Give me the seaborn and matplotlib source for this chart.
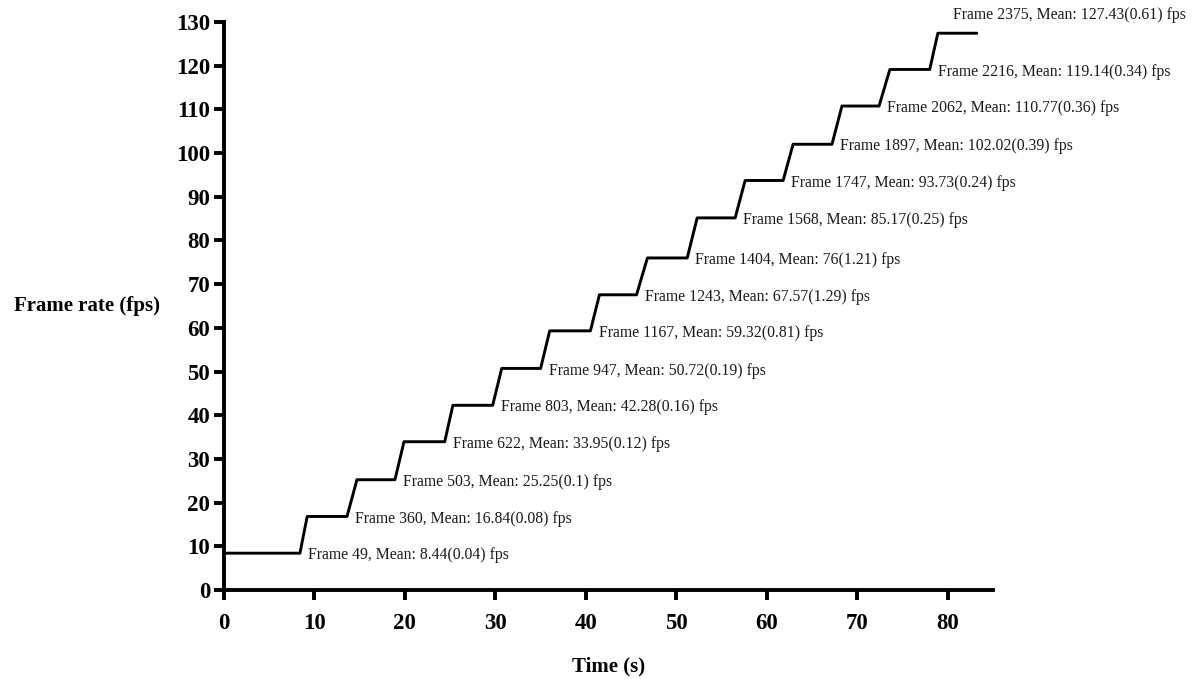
import numpy as np
import pandas as pd
import matplotlib
matplotlib.use("Agg")
import matplotlib.pyplot as plt
import seaborn as sns

# --- data ---
# plateau levels (mean fps) and the frame counts written in the labels
levels = [8.44, 16.84, 25.25, 33.95, 42.28, 50.72, 59.32, 67.57,
          76.00, 85.17, 93.73, 102.02, 110.77, 119.14, 127.43]
frames = [49, 360, 503, 622, 803, 947, 1167, 1243,
          1404, 1568, 1747, 1897, 2062, 2216, 2375]
stds = ["0.04", "0.08", "0.1", "0.12", "0.16", "0.19", "0.81", "1.29",
        "1.21", "0.25", "0.24", "0.39", "0.36", "0.34", "0.61"]
mean_txt = ["8.44", "16.84", "25.25", "33.95", "42.28", "50.72", "59.32", "67.57",
            "76", "85.17", "93.73", "102.02", "110.77", "119.14", "127.43"]
# time (s) where each step starts to rise and where it reaches the next level
ramp_start = [8.4, 13.6, 18.9, 24.4, 29.7, 35.0, 40.5, 45.6,
              51.2, 56.5, 61.8, 67.2, 72.4, 78.0]
ramp_end = [9.2, 14.7, 19.9, 25.3, 30.7, 36.0, 41.5, 46.8,
            52.3, 57.6, 62.9, 68.3, 73.6, 78.9]
t_first, t_last = 0.0, 83.2

# build the staircase polyline
t = [t_first]
fps = [levels[0]]
for i in range(len(ramp_start)):
    t += [ramp_start[i], ramp_end[i]]
    fps += [levels[i], levels[i + 1]]
t.append(t_last)
fps.append(levels[-1])
df = pd.DataFrame({"Time (s)": t, "Frame rate (fps)": fps})

# --- style ---
sns.set_theme(style="ticks")
plt.rcParams["font.family"] = ["Liberation Serif", "DejaVu Serif"]

fig = plt.figure(figsize=(11.95, 6.79), dpi=100)
ax = fig.add_axes([0.1874, 0.131, 0.6436, 0.8366])

sns.lineplot(data=df, x="Time (s)", y="Frame rate (fps)", color="black",
             linewidth=2.1, estimator=None, sort=False, ax=ax)

ax.set_xlim(0, 85)
ax.set_ylim(0, 130)
ax.set_xticks(np.arange(0, 81, 10))
ax.set_yticks(np.arange(0, 131, 10))
sns.despine(ax=ax)
for s in ["left", "bottom"]:
    ax.spines[s].set_linewidth(2.8)
    ax.spines[s].set_color("black")
ax.tick_params(axis="both", length=7, width=2.8, color="black",
               labelcolor="black", labelsize=16.5)
ax.tick_params(axis="x", pad=9.5)
ax.tick_params(axis="y", pad=3)
for lab in ax.get_xticklabels() + ax.get_yticklabels():
    lab.set_fontweight("bold")

ax.set_xlabel("Time (s)", fontsize=15, fontweight="bold", color="black")
ax.set_ylabel("Frame rate (fps)", fontsize=15, fontweight="bold", color="black",
              rotation=0, ha="right", va="center")
ax.yaxis.set_label_coords(-0.083, 0.5)
ax.xaxis.set_label_coords(0.5, -0.135)
ax.xaxis.label.set_va("center")

# step annotations
for i in range(len(ramp_start)):
    ax.text(ramp_start[i] + 0.9, levels[i] - 0.5,
            f"Frame {frames[i]}, Mean: {mean_txt[i]}({stds[i]}) fps",
            fontsize=11.3, color="#1a1a1a", ha="left", va="center")
ax.text(80.6, 131.6,
        f"Frame {frames[-1]}, Mean: {mean_txt[-1]}({stds[-1]}) fps",
        fontsize=11.3, color="#1a1a1a", ha="left", va="center")

fig.savefig("out.png", dpi=100)
